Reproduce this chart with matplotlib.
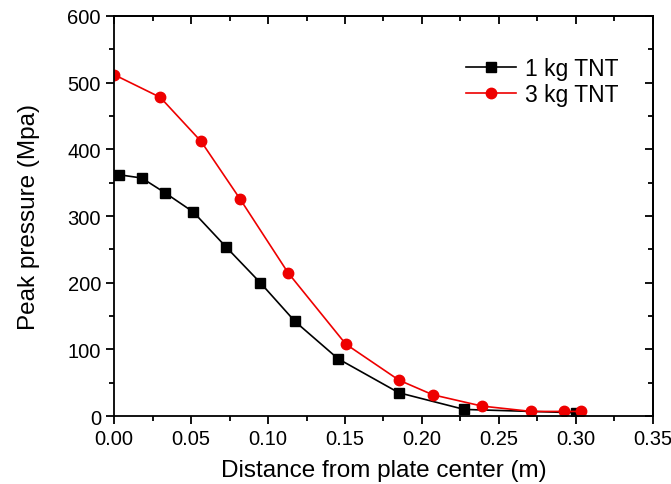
import matplotlib
matplotlib.use("Agg")
import matplotlib.pyplot as plt
from matplotlib.ticker import MultipleLocator

plt.rcParams['font.family'] = ['Liberation Sans', 'DejaVu Sans']

x1 = [0.003, 0.018, 0.033, 0.0515, 0.073, 0.095, 0.1175, 0.1455, 0.185, 0.2275, 0.300]
y1 = [362, 357, 335, 306, 253, 200, 142, 86, 35, 10, 5]
x3 = [0.0, 0.030, 0.0565, 0.082, 0.113, 0.1505, 0.185, 0.207, 0.239, 0.271, 0.292, 0.303]
y3 = [512, 478, 412, 325, 215, 108, 54, 32, 15, 7, 7, 7]
labels = ['1 kg TNT', '3 kg TNT']

fig = plt.figure(figsize=(6.71, 4.85), dpi=100)
ax = fig.add_axes([0.170, 0.140, 0.803, 0.825])
ax.plot(x1, y1, color='black', marker='s', markersize=6.5, lw=1.2, label=labels[0])
ax.plot(x3, y3, color='#ee0000', marker='o', markersize=7.5, lw=1.2, label=labels[1])

ax.set_xlim(0, 0.35)
ax.set_ylim(0, 600)
ax.xaxis.set_major_locator(MultipleLocator(0.05))
ax.xaxis.set_minor_locator(MultipleLocator(0.025))
ax.yaxis.set_major_locator(MultipleLocator(100))
ax.yaxis.set_minor_locator(MultipleLocator(50))
ax.set_xticklabels([f'{v:.2f}' for v in ax.get_xticks()])
ax.tick_params(which='both', direction='out', width=1.3, labelsize=14.5, top=False, right=False)
ax.tick_params(which='major', length=6)
ax.tick_params(which='minor', length=3.5)
ax2 = ax.secondary_xaxis('top')
ax2.xaxis.set_major_locator(MultipleLocator(0.05))
ax2.xaxis.set_minor_locator(MultipleLocator(0.025))
ax2.tick_params(which='both', direction='in', labeltop=False, width=1.3)
ax2.tick_params(which='major', length=6)
ax2.tick_params(which='minor', length=3.5)
ay2 = ax.secondary_yaxis('right')
ay2.yaxis.set_major_locator(MultipleLocator(100))
ay2.yaxis.set_minor_locator(MultipleLocator(50))
ay2.tick_params(which='both', direction='in', labelright=False, width=1.3)
ay2.tick_params(which='major', length=6)
ay2.tick_params(which='minor', length=3.5)
for s in list(ax.spines.values()) + list(ax2.spines.values()) + list(ay2.spines.values()):
    s.set_linewidth(1.3)

ax.set_xlabel('Distance from plate center (m)', fontsize=17.5, labelpad=8)
ax.set_ylabel('Peak pressure (Mpa)', fontsize=17.5, labelpad=20)
ax.legend(loc='upper right', bbox_to_anchor=(0.975, 0.95), frameon=False, fontsize=16.5,
          handlelength=2.2, handletextpad=0.4, labelspacing=0.15)
fig.savefig('out.png', dpi=100)
